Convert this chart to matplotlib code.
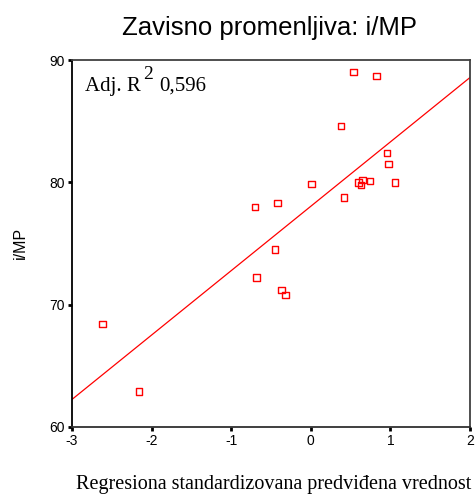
import numpy as np
import matplotlib
matplotlib.use("Agg")
import matplotlib.pyplot as plt

x_vals = [-2.62, -2.16, -0.70, -0.416, -0.45, -0.685, -0.366, -0.316, 0.011, 0.38,
          0.535, 0.823, 0.417, 0.597, 0.63, 0.652, 0.744, 0.957, 0.975, 1.058]
y_vals = [68.4, 62.9, 78.0, 78.33, 74.5, 72.2, 71.2, 70.8, 79.86, 84.6,
          89.0, 88.7, 78.77, 79.97, 79.78, 80.2, 80.1, 82.4, 81.5, 80.0]
x_ticks = [-3, -2, -1, 0, 1, 2]
y_ticks = [60, 70, 80, 90]
title = "Zavisno promenljiva: i/MP"
x_label = "Regresiona standardizovana predviđena vrednost"
y_label = "i/MP"
adj_r2 = "0,596"

fig = plt.figure(figsize=(4.76, 4.96), dpi=100)
ax = fig.add_axes([72/476, 1-427/496, (470-72)/476, (427-60)/496])

ax.scatter(x_vals, y_vals, marker='s', s=22, facecolors='none', edgecolors='#ff0000',
           linewidths=1.0, zorder=3)

slope, intercept = np.polyfit(x_vals, y_vals, 1)
lx = np.array([-3, 2])
ax.plot(lx, intercept + slope*lx, color='#ff0000', lw=0.9, zorder=2)

ax.set_xlim(-3, 2)
ax.set_ylim(60, 90)
ax.set_xticks(x_ticks)
ax.set_yticks(y_ticks)
ax.set_xticklabels([str(t) for t in x_ticks], family='Liberation Sans', fontsize=10)
ax.set_yticklabels([str(t) for t in y_ticks], family='Liberation Sans', fontsize=10)
ax.tick_params(direction='out', length=3, width=2, color='black', pad=2)
for s in ax.spines.values():
    s.set_color('#404040')
    s.set_linewidth(1.3)
ax.spines['left'].set_color('black')
ax.spines['bottom'].set_color('#303030')

fig.text(270/476, 1-28/496, title, ha='center', va='center',
         family='Liberation Sans', fontsize=18.5)
fig.text(274/476, 1-484/496, x_label, ha='center', va='center',
         family='Liberation Serif', fontsize=14.5)
fig.text(20/476, 1-243/496, y_label, ha='center', va='center', rotation=90,
         family='Liberation Sans', fontsize=11.5)

fig.text(85/476, 1-91/496, "Adj. R", ha='left', va='baseline',
         family='Liberation Serif', fontsize=15)
fig.text(143/476, 1-79/496, "2", ha='left', va='baseline',
         family='Liberation Serif', fontsize=14)
fig.text(159/476, 1-91/496, adj_r2, ha='left', va='baseline',
         family='Liberation Serif', fontsize=15)

fig.savefig("out.png", dpi=100)
